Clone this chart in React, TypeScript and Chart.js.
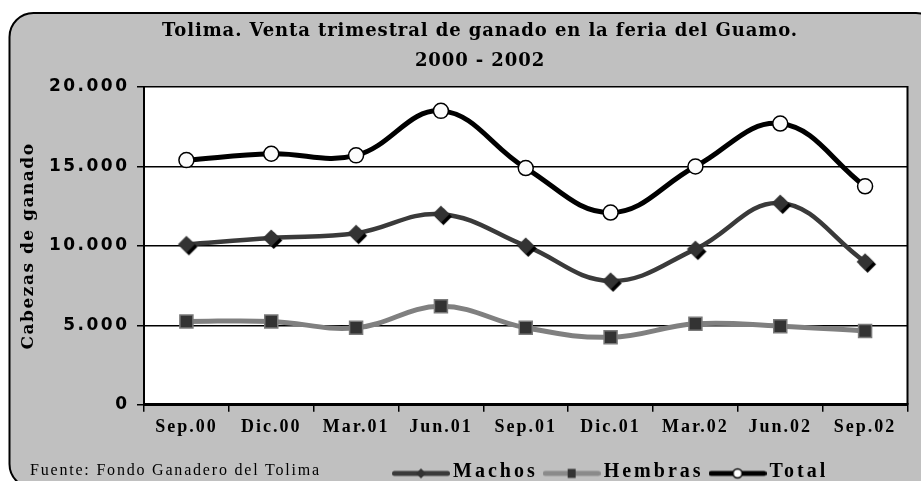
import React, { useEffect, useRef } from 'react';
import { Chart, registerables } from 'chart.js';

Chart.register(...registerables);

// ---------- data ----------
const categories = ['Sep.00', 'Dic.00', 'Mar.01', 'Jun.01', 'Sep.01', 'Dic.01', 'Mar.02', 'Jun.02', 'Sep.02'];
const machos = [10100, 10500, 10800, 12000, 10000, 7800, 9800, 12700, 9000];
const hembras = [5250, 5250, 4850, 6200, 4850, 4250, 5100, 4950, 4650];
const total = [15400, 15800, 15700, 18500, 14900, 12100, 15000, 17700, 13750];
const seriesNames = ['Machos', 'Hembras', 'Total'];
const yMin = 0;
const yMax = 20000;
const yStep = 5000;
const titleLines = ['Tolima. Venta trimestral de ganado en la feria del Guamo.', '2000 - 2002'];
const yAxisTitle = 'Cabezas de ganado';
const sourceNote = 'Fuente: Fondo Ganadero del Tolima';

const fmt = (v: number) => String(v).replace(/\B(?=(\d{3})+(?!\d))/g, '.');

function makeCanvas(w: number, h: number) {
  const c = document.createElement('canvas');
  c.width = w;
  c.height = h;
  return c;
}

function diamondPoint() {
  const half = 8.5, sh = 2.5;
  const s = Math.ceil(2 * (half + sh)) + 2;
  const c = makeCanvas(s, s);
  const g = c.getContext('2d')!;
  const m = s / 2;
  const dia = (cx: number, cy: number, col: string) => {
    g.beginPath();
    g.moveTo(cx, cy - half);
    g.lineTo(cx + half, cy);
    g.lineTo(cx, cy + half);
    g.lineTo(cx - half, cy);
    g.closePath();
    g.fillStyle = col;
    g.fill();
  };
  dia(m + sh, m + sh, '#000');
  dia(m, m, '#333');
  return c;
}

function legendIcon(lineColor: string, drawMarker: (g: CanvasRenderingContext2D, x: number, y: number) => void) {
  const w = 58, h = 18, cy = 11;
  const c = makeCanvas(w, h);
  const g = c.getContext('2d')!;
  g.strokeStyle = lineColor;
  g.lineWidth = 5;
  g.lineCap = 'round';
  g.beginPath();
  g.moveTo(2.5, cy);
  g.lineTo(w - 2.5, cy);
  g.stroke();
  drawMarker(g, w / 2, cy);
  return c;
}

function wrapSpacing(obj: any, method: string, spacing: string) {
  if (!obj || obj['__sp_' + method]) return;
  const orig = obj[method];
  obj[method] = function (...args: any[]) {
    const c = this.ctx;
    const prev = c.letterSpacing;
    c.letterSpacing = spacing;
    try {
      return orig.apply(this, args);
    } finally {
      c.letterSpacing = prev;
    }
  };
  obj['__sp_' + method] = true;
}

const spacingPlugin = {
  id: 'spacing',
  beforeLayout(chart: any) {
    wrapSpacing(chart.scales.x, 'drawLabels', '2px');
    wrapSpacing(chart.scales.y, 'drawLabels', '2.5px');
    wrapSpacing(chart.scales.y, 'drawTitle', '1.5px');
    wrapSpacing(chart.legend, 'fit', '3px');
    wrapSpacing(chart.legend, 'draw', '3px');
    wrapSpacing(chart.titleBlock, 'draw', '0.9px');
  },
  afterLayout(chart: any) {
    const lg = chart.legend;
    if (lg) {
      const w = lg.right - lg.left;
      lg.left = 387;
      lg.right = 387 + w;
    }
    const t = chart.titleBlock;
    if (t) {
      t.left = 45;
    }
  },
};

const framePlugin = {
  id: 'frame',
  beforeDraw(chart: any) {
    const ctx = chart.ctx;
    const a = chart.chartArea;
    ctx.save();
    const x0 = 9.5, y0 = 13, x1 = 940, y1 = 488, r = 24;
    ctx.beginPath();
    ctx.moveTo(x0 + r, y0);
    ctx.lineTo(x1 - r, y0);
    ctx.arcTo(x1, y0, x1, y0 + r, r);
    ctx.lineTo(x1, y1 - r);
    ctx.arcTo(x1, y1, x1 - r, y1, r);
    ctx.lineTo(x0 + r, y1);
    ctx.arcTo(x0, y1, x0, y1 - r, r);
    ctx.lineTo(x0, y0 + r);
    ctx.arcTo(x0, y0, x0 + r, y0, r);
    ctx.closePath();
    ctx.fillStyle = '#c0c0c0';
    ctx.fill();
    ctx.lineWidth = 2;
    ctx.strokeStyle = '#000';
    ctx.stroke();
    ctx.fillStyle = '#ffffff';
    ctx.fillRect(a.left, a.top, a.right - a.left, a.bottom - a.top);
    ctx.restore();
  },
  beforeDatasetsDraw(chart: any) {
    const ctx = chart.ctx;
    const a = chart.chartArea;
    ctx.save();
    ctx.strokeStyle = '#000';
    ctx.lineWidth = 2;
    ctx.beginPath();
    ctx.moveTo(a.right, a.top - 1);
    ctx.lineTo(a.right, a.bottom);
    ctx.stroke();
    ctx.restore();
  },
};

export default function App() {
  const ref = useRef<HTMLCanvasElement | null>(null);

  useEffect(() => {
    if (!ref.current) return;

    const machosIcon = legendIcon('#3a3a3a', (g, x, y) => {
      const h = 5;
      g.beginPath();
      g.moveTo(x, y - h);
      g.lineTo(x + h, y);
      g.lineTo(x, y + h);
      g.lineTo(x - h, y);
      g.closePath();
      g.fillStyle = '#333';
      g.fill();
    });
    const hembrasIcon = legendIcon('#8a8a8a', (g, x, y) => {
      g.fillStyle = '#333';
      g.fillRect(x - 4, y - 4.5, 8, 9);
    });
    const totalIcon = legendIcon('#000', (g, x, y) => {
      g.beginPath();
      g.arc(x, y, 4.5, 0, Math.PI * 2);
      g.fillStyle = '#fff';
      g.fill();
      g.lineWidth = 1.5;
      g.strokeStyle = '#000';
      g.stroke();
    });
    const icons = [machosIcon, hembrasIcon, totalIcon];

    const chart = new Chart(ref.current, {
      type: 'line',
      data: {
        labels: categories,
        datasets: [
          {
            label: seriesNames[0],
            data: machos,
            borderColor: '#3a3a3a',
            borderWidth: 4.5,
            tension: 0.4,
            pointStyle: diamondPoint() as any,
            pointRadius: 9,
            borderCapStyle: 'round',
            borderJoinStyle: 'round',
          },
          {
            label: seriesNames[1],
            data: hembras,
            borderColor: '#808080',
            borderWidth: 5,
            tension: 0.4,
            pointStyle: 'rect',
            pointRadius: 9.2,
            pointBackgroundColor: '#333',
            pointBorderColor: '#7a7a7a',
            pointBorderWidth: 1.5,
            borderCapStyle: 'round',
            borderJoinStyle: 'round',
          },
          {
            label: seriesNames[2],
            data: total,
            borderColor: '#000',
            borderWidth: 5,
            tension: 0.4,
            pointStyle: 'circle',
            pointRadius: 7.5,
            pointBackgroundColor: '#fcfcfc',
            pointBorderColor: '#000',
            pointBorderWidth: 1.5,
            borderCapStyle: 'round',
            borderJoinStyle: 'round',
          },
        ],
      },
      options: {
        responsive: false,
        animation: false,
        events: [],
        layout: { padding: { top: 17, right: 6, bottom: -10.4, left: 0 } },
        plugins: {
          tooltip: { enabled: false },
          title: {
            display: true,
            text: titleLines,
            color: '#000',
            font: { family: 'DejaVu Serif', size: 18, weight: 'bold', lineHeight: 1.64 },
            padding: { top: 0, bottom: 11 },
          },
          legend: {
            display: true,
            position: 'bottom',
            align: 'start',
            labels: {
              color: '#000',
              font: { family: 'Liberation Serif', size: 20, weight: 'bold', lineHeight: 1.14 },
              usePointStyle: true,
              pointStyleWidth: 44,
              padding: 12,
              generateLabels: (c: any) => {
                const items = (Chart.defaults.plugins.legend.labels as any).generateLabels(c);
                items.forEach((it: any, i: number) => {
                  it.pointStyle = icons[i];
                  it.fontColor = '#000';
                });
                return items;
              },
            },
          },
        },
        scales: {
          x: {
            type: 'category',
            offset: true,
            grid: {
              offset: true,
              drawOnChartArea: false,
              drawTicks: true,
              tickLength: 7,
              color: '#000',
              lineWidth: 1.5,
            },
            border: { display: true, color: '#000', width: 3 },
            ticks: {
              color: '#000',
              font: { family: 'Liberation Serif', size: 18, weight: 'bold', lineHeight: 1.2 },
              padding: 5,
              maxRotation: 0,
              minRotation: 0,
              autoSkip: false,
            },
            afterFit: (s: any) => {
              s.height = 44.6;
            },
          },
          y: {
            min: yMin,
            max: yMax,
            grid: {
              color: '#000',
              lineWidth: 1.5,
              drawTicks: true,
              tickLength: 7,
            },
            border: { display: true, color: '#000', width: 2 },
            ticks: {
              stepSize: yStep,
              color: '#000',
              font: { family: 'DejaVu Sans', size: 17, weight: 'bold' },
              padding: 7.5,
              callback: (v: any) => fmt(Number(v)),
            },
            title: {
              display: true,
              text: yAxisTitle,
              color: '#000',
              font: { family: 'DejaVu Serif', size: 17, weight: 'bold', lineHeight: 1.2 },
              padding: { top: 18, bottom: 0 },
            },
            afterFit: (s: any) => {
              s.width = 144;
            },
          },
        },
      },
      plugins: [spacingPlugin, framePlugin],
    } as any);

    return () => {
      chart.destroy();
    };
  }, []);

  return (
    <div style={{ position: 'fixed', left: 0, top: 0, width: 921, height: 481, overflow: 'hidden', background: '#fff' }}>
      <canvas ref={ref} width={921} height={481} style={{ display: 'block', width: 921, height: 481 }} />
      <div
        style={{
          position: 'absolute',
          left: 30,
          top: 460,
          fontFamily: '"Liberation Serif", serif',
          fontSize: 16,
          lineHeight: '20px',
          letterSpacing: '1.8px',
          color: '#000',
          whiteSpace: 'nowrap',
        }}
      >
        {sourceNote}
      </div>
    </div>
  );
}
